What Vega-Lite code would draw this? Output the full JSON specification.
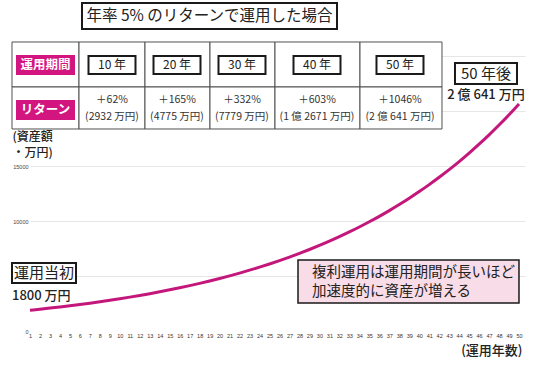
{
  "$schema": "https://vega.github.io/schema/vega-lite/v6.json",
  "width": 495,
  "height": 330,
  "autosize": "none",
  "padding": {"left": 30, "top": 1, "right": 15, "bottom": 34},
  "background": "white",
  "config": {"font": "Noto Sans CJK JP", "view": {"stroke": null}},
  "resolve": {"axis": {"x": "independent", "y": "independent"}},
  "datasets": {
    "growth": [
      {"year": 1, "value": 1890}, {"year": 2, "value": 1984.5}, {"year": 3, "value": 2083.7}, {"year": 4, "value": 2187.9}, {"year": 5, "value": 2297.3},
      {"year": 6, "value": 2412.2}, {"year": 7, "value": 2532.8}, {"year": 8, "value": 2659.4}, {"year": 9, "value": 2792.4}, {"year": 10, "value": 2932.0},
      {"year": 11, "value": 3078.6}, {"year": 12, "value": 3232.5}, {"year": 13, "value": 3394.2}, {"year": 14, "value": 3563.9}, {"year": 15, "value": 3742.1},
      {"year": 16, "value": 3929.2}, {"year": 17, "value": 4125.6}, {"year": 18, "value": 4331.9}, {"year": 19, "value": 4548.5}, {"year": 20, "value": 4775.9},
      {"year": 21, "value": 5014.7}, {"year": 22, "value": 5265.5}, {"year": 23, "value": 5528.7}, {"year": 24, "value": 5805.2}, {"year": 25, "value": 6095.4},
      {"year": 26, "value": 6400.2}, {"year": 27, "value": 6720.2}, {"year": 28, "value": 7056.2}, {"year": 29, "value": 7409.0}, {"year": 30, "value": 7779.5},
      {"year": 31, "value": 8168.5}, {"year": 32, "value": 8576.9}, {"year": 33, "value": 9005.7}, {"year": 34, "value": 9456.0}, {"year": 35, "value": 9928.8},
      {"year": 36, "value": 10425.3}, {"year": 37, "value": 10946.5}, {"year": 38, "value": 11493.9}, {"year": 39, "value": 12068.6}, {"year": 40, "value": 12672.0},
      {"year": 41, "value": 13305.6}, {"year": 42, "value": 13970.9}, {"year": 43, "value": 14669.4}, {"year": 44, "value": 15402.9}, {"year": 45, "value": 16173.0},
      {"year": 46, "value": 16981.7}, {"year": 47, "value": 17830.7}, {"year": 48, "value": 18722.3}, {"year": 49, "value": 19658.4}, {"year": 50, "value": 20641.3}
    ],
    "cells": [
      {"x0": -0.804, "x1": 5.910, "y0": 22182, "y1": 26273},
      {"x0": 5.910, "x1": 12.523, "y0": 22182, "y1": 26273},
      {"x0": 12.523, "x1": 19.036, "y0": 22182, "y1": 26273},
      {"x0": 19.036, "x1": 25.549, "y0": 22182, "y1": 26273},
      {"x0": 25.549, "x1": 34.066, "y0": 22182, "y1": 26273},
      {"x0": 34.066, "x1": 42.283, "y0": 22182, "y1": 26273},
      {"x0": -0.804, "x1": 5.910, "y0": 18364, "y1": 22182},
      {"x0": 5.910, "x1": 12.523, "y0": 18364, "y1": 22182},
      {"x0": 12.523, "x1": 19.036, "y0": 18364, "y1": 22182},
      {"x0": 19.036, "x1": 25.549, "y0": 18364, "y1": 22182},
      {"x0": 25.549, "x1": 34.066, "y0": 18364, "y1": 22182},
      {"x0": 34.066, "x1": 42.283, "y0": 18364, "y1": 22182}
    ],
    "tags": [
      {"label": "運用期間", "x0": -0.403, "x1": 5.509, "y0": 23273, "y1": 25091, "xc": 2.553, "yc": 24182},
      {"label": "リターン", "x0": -0.403, "x1": 5.509, "y0": 19182, "y1": 21000, "xc": 2.553, "yc": 20091}
    ],
    "framed": [
      {"group": "title", "label": "年率 5% のリターンで運用した場合", "x0": 6.210, "x1": 31.762, "y0": 27455, "y1": 29818, "xc": 18.986, "yc": 28636},
      {"group": "period", "label": "10 年", "x0": 6.862, "x1": 11.571, "y0": 23364, "y1": 25000, "xc": 9.216, "yc": 24182},
      {"group": "period", "label": "20 年", "x0": 13.375, "x1": 18.084, "y0": 23364, "y1": 25000, "xc": 15.729, "yc": 24182},
      {"group": "period", "label": "30 年", "x0": 19.888, "x1": 24.597, "y0": 23364, "y1": 25000, "xc": 22.242, "yc": 24182},
      {"group": "period", "label": "40 年", "x0": 27.403, "x1": 32.112, "y0": 23364, "y1": 25000, "xc": 29.758, "yc": 24182},
      {"group": "period", "label": "50 年", "x0": 35.719, "x1": 40.429, "y0": 23364, "y1": 25000, "xc": 38.074, "yc": 24182},
      {"group": "big", "label": "50 年後", "x0": 43.585, "x1": 49.798, "y0": 22455, "y1": 24364, "xc": 46.691, "yc": 23409},
      {"group": "big", "label": "運用当初", "x0": -0.804, "x1": 5.609, "y0": 4364, "y1": 6182, "xc": 2.403, "yc": 5273}
    ],
    "returns": [
      {"text": "＋62%", "xc": 9.216, "yc": 20955},
      {"text": "(2932 万円)", "xc": 9.216, "yc": 19455},
      {"text": "＋165%", "xc": 15.729, "yc": 20955},
      {"text": "(4775 万円)", "xc": 15.729, "yc": 19455},
      {"text": "＋332%", "xc": 22.242, "yc": 20955},
      {"text": "(7779 万円)", "xc": 22.242, "yc": 19455},
      {"text": "＋603%", "xc": 29.758, "yc": 20955},
      {"text": "(1 億 2671 万円)", "xc": 29.758, "yc": 19455},
      {"text": "＋1046%", "xc": 38.074, "yc": 20955},
      {"text": "(2 億 641 万円)", "xc": 38.074, "yc": 19455}
    ],
    "notes": [
      {"text": "2 億 641 万円", "xc": 46.691, "yc": 21455, "align": "center"},
      {"text": "1800 万円", "xc": -0.804, "yc": 3182, "align": "left"}
    ],
    "callout": [
      {"x0": 27.854, "x1": 49.998, "y0": 2545, "y1": 6455}
    ],
    "calloutText": [
      {"text": "複利運用は運用期間が長いほど", "xc": 29.257, "yc": 5273},
      {"text": "加速度的に資産が増える", "xc": 29.257, "yc": 3545}
    ]
  },
  "layer": [
    {
      "data": {"name": "growth"},
      "mark": {"type": "line", "color": "#c4177b", "strokeWidth": 3, "interpolate": "monotone"},
      "encoding": {
        "x": {
          "field": "year", "type": "quantitative",
          "scale": {"domain": [1, 50.6], "nice": false, "zero": false},
          "axis": {
            "values": [1,2,3,4,5,6,7,8,9,10,11,12,13,14,15,16,17,18,19,20,21,22,23,24,25,26,27,28,29,30,31,32,33,34,35,36,37,38,39,40,41,42,43,44,45,46,47,48,49,50],
            "labelFontSize": 5.5, "labelColor": "#333", "labelFont": "Liberation Sans",
            "domain": false, "ticks": false, "grid": false, "labelPadding": 2,
            "labelFlush": false, "labelOverlap": false,
            "title": "(運用年数)", "titleFontSize": 13, "titleColor": "#222", "titleFontWeight": 500,
            "titleAnchor": "end", "titleAlign": "right", "titleBaseline": "middle", "titleX": 492, "titleY": 19
          }
        },
        "y": {
          "field": "value", "type": "quantitative",
          "scale": {"domain": [0, 30000], "nice": false, "zero": true},
          "axis": {
            "values": [0, 5000, 10000, 15000, 20000, 25000], "format": "d",
            "labelExpr": "datum.value === 0 || datum.value === 10000 || datum.value === 15000 ? datum.label : ''",
            "labelFontSize": 5.5, "labelColor": "#444", "labelFont": "Liberation Sans",
            "domain": false, "ticks": false, "labelPadding": 2,
            "grid": true, "gridColor": "#e6e6e6",
            "gridOpacity": {"condition": {"test": "datum.value === 0", "value": 0}, "value": 1},
            "title": ["(資産額", "・万円)"], "titleAngle": 0, "titleAlign": "left", "titleBaseline": "top",
            "titleX": -18, "titleY": 130, "titleFontSize": 12, "titleLineHeight": 16.5, "titleColor": "#222", "titleFontWeight": 500
          }
        }
      }
    },
    {
      "data": {"name": "cells"},
      "mark": {"type": "rect", "fill": "white", "stroke": "#505050", "strokeWidth": 1},
      "encoding": {
        "x": {"field": "x0", "type": "quantitative", "scale": {"domain": [1, 50.6], "nice": false, "zero": false}, "axis": null},
        "x2": {"field": "x1"},
        "y": {"field": "y0", "type": "quantitative", "scale": {"domain": [0, 30000], "nice": false, "zero": true}, "axis": null},
        "y2": {"field": "y1"}
      }
    },
    {
      "data": {"name": "tags"},
      "mark": {"type": "rect", "fill": "#d3157f"},
      "encoding": {
        "x": {"field": "x0", "type": "quantitative", "scale": {"domain": [1, 50.6], "nice": false, "zero": false}, "axis": null},
        "x2": {"field": "x1"},
        "y": {"field": "y0", "type": "quantitative", "scale": {"domain": [0, 30000], "nice": false, "zero": true}, "axis": null},
        "y2": {"field": "y1"}
      }
    },
    {
      "data": {"name": "tags"},
      "mark": {"type": "text", "color": "white", "fontSize": 12.5, "fontWeight": "bold", "align": "center", "baseline": "middle"},
      "encoding": {
        "x": {"field": "xc", "type": "quantitative", "scale": {"domain": [1, 50.6], "nice": false, "zero": false}, "axis": null},
        "y": {"field": "yc", "type": "quantitative", "scale": {"domain": [0, 30000], "nice": false, "zero": true}, "axis": null},
        "text": {"field": "label"}
      }
    },
    {
      "data": {"name": "framed"},
      "mark": {"type": "rect", "fill": "white", "stroke": "#1a1a1a", "strokeWidth": 2},
      "encoding": {
        "x": {"field": "x0", "type": "quantitative", "scale": {"domain": [1, 50.6], "nice": false, "zero": false}, "axis": null},
        "x2": {"field": "x1"},
        "y": {"field": "y0", "type": "quantitative", "scale": {"domain": [0, 30000], "nice": false, "zero": true}, "axis": null},
        "y2": {"field": "y1"}
      }
    },
    {
      "data": {"name": "framed"},
      "transform": [{"filter": "datum.group === 'title'"}],
      "mark": {"type": "text", "color": "#222", "fontSize": 15.5, "align": "center", "baseline": "middle"},
      "encoding": {
        "x": {"field": "xc", "type": "quantitative", "scale": {"domain": [1, 50.6], "nice": false, "zero": false}, "axis": null},
        "y": {"field": "yc", "type": "quantitative", "scale": {"domain": [0, 30000], "nice": false, "zero": true}, "axis": null},
        "text": {"field": "label"}
      }
    },
    {
      "data": {"name": "framed"},
      "transform": [{"filter": "datum.group === 'period'"}],
      "mark": {"type": "text", "color": "#222", "fontSize": 12, "align": "center", "baseline": "middle"},
      "encoding": {
        "x": {"field": "xc", "type": "quantitative", "scale": {"domain": [1, 50.6], "nice": false, "zero": false}, "axis": null},
        "y": {"field": "yc", "type": "quantitative", "scale": {"domain": [0, 30000], "nice": false, "zero": true}, "axis": null},
        "text": {"field": "label"}
      }
    },
    {
      "data": {"name": "framed"},
      "transform": [{"filter": "datum.group === 'big'"}],
      "mark": {"type": "text", "color": "#222", "fontSize": 15, "align": "center", "baseline": "middle"},
      "encoding": {
        "x": {"field": "xc", "type": "quantitative", "scale": {"domain": [1, 50.6], "nice": false, "zero": false}, "axis": null},
        "y": {"field": "yc", "type": "quantitative", "scale": {"domain": [0, 30000], "nice": false, "zero": true}, "axis": null},
        "text": {"field": "label"}
      }
    },
    {
      "data": {"name": "returns"},
      "mark": {"type": "text", "color": "#333", "fontSize": 10.5, "align": "center", "baseline": "middle"},
      "encoding": {
        "x": {"field": "xc", "type": "quantitative", "scale": {"domain": [1, 50.6], "nice": false, "zero": false}, "axis": null},
        "y": {"field": "yc", "type": "quantitative", "scale": {"domain": [0, 30000], "nice": false, "zero": true}, "axis": null},
        "text": {"field": "text"}
      }
    },
    {
      "data": {"name": "notes"},
      "transform": [{"filter": "datum.align === 'center'"}],
      "mark": {"type": "text", "color": "#222", "fontSize": 13, "fontWeight": 500, "align": "center", "baseline": "middle"},
      "encoding": {
        "x": {"field": "xc", "type": "quantitative", "scale": {"domain": [1, 50.6], "nice": false, "zero": false}, "axis": null},
        "y": {"field": "yc", "type": "quantitative", "scale": {"domain": [0, 30000], "nice": false, "zero": true}, "axis": null},
        "text": {"field": "text"}
      }
    },
    {
      "data": {"name": "notes"},
      "transform": [{"filter": "datum.align === 'left'"}],
      "mark": {"type": "text", "color": "#222", "fontSize": 13, "fontWeight": 500, "align": "left", "baseline": "middle"},
      "encoding": {
        "x": {"field": "xc", "type": "quantitative", "scale": {"domain": [1, 50.6], "nice": false, "zero": false}, "axis": null},
        "y": {"field": "yc", "type": "quantitative", "scale": {"domain": [0, 30000], "nice": false, "zero": true}, "axis": null},
        "text": {"field": "text"}
      }
    },
    {
      "data": {"name": "callout"},
      "mark": {"type": "rect", "fill": "#f8dce7", "stroke": "#1a1a1a", "strokeWidth": 1.5},
      "encoding": {
        "x": {"field": "x0", "type": "quantitative", "scale": {"domain": [1, 50.6], "nice": false, "zero": false}, "axis": null},
        "x2": {"field": "x1"},
        "y": {"field": "y0", "type": "quantitative", "scale": {"domain": [0, 30000], "nice": false, "zero": true}, "axis": null},
        "y2": {"field": "y1"}
      }
    },
    {
      "data": {"name": "calloutText"},
      "mark": {"type": "text", "color": "#222", "fontSize": 14.5, "align": "left", "baseline": "middle"},
      "encoding": {
        "x": {"field": "xc", "type": "quantitative", "scale": {"domain": [1, 50.6], "nice": false, "zero": false}, "axis": null},
        "y": {"field": "yc", "type": "quantitative", "scale": {"domain": [0, 30000], "nice": false, "zero": true}, "axis": null},
        "text": {"field": "text"}
      }
    }
  ]
}
